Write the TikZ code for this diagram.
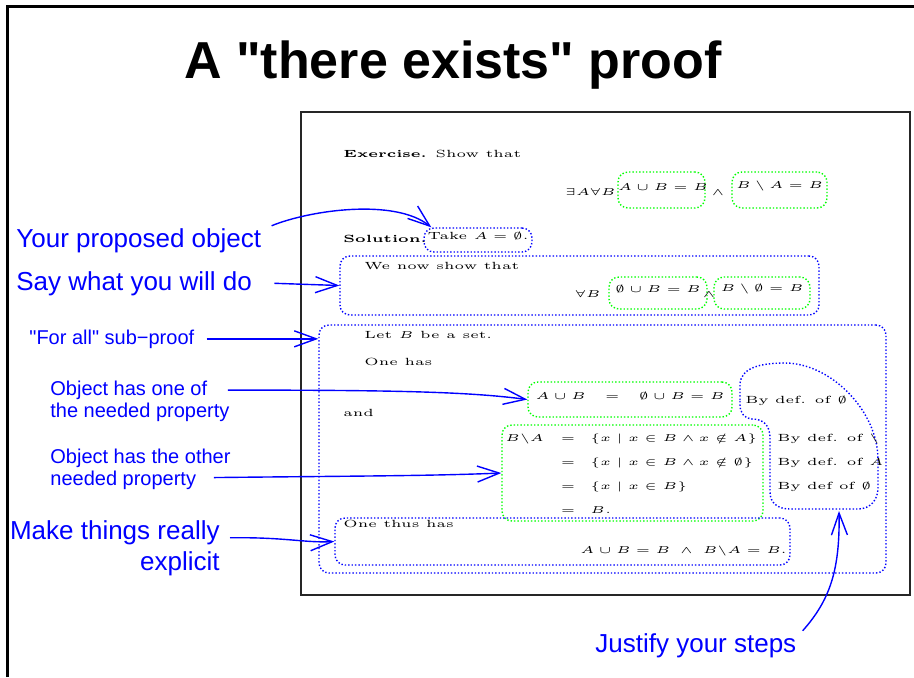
\documentclass[tikz,border=0pt]{standalone}
\usepackage{fontspec}
\usepackage{amsmath}
\usepackage{amssymb}
\usetikzlibrary{arrows.meta,positioning,fit}
\newfontfamily\helv{Liberation Sans}
\newcommand\wid[1]{\scalebox{1.35}[1]{#1}}

\begin{document}
\begin{tikzpicture}[x=0.5pt,y=-0.5pt,
    >={Straight Barb[length=11pt,width=8pt]},
    note/.style={text=blue,font=\helv\fontsize{13}{15.5}\selectfont,inner sep=1pt},
    smallnote/.style={text=blue,font=\helv\fontsize{10}{11}\selectfont,inner sep=1pt,align=left},
    tx/.style={font=\fontsize{5.2}{6}\selectfont,inner sep=0pt,anchor=base west},
    bluedot/.style={draw=blue,line width=0.7pt,dash pattern=on 0.7pt off 1pt},
    bluebox/.style={bluedot,rounded corners=5pt,inner sep=0pt,font=\fontsize{5.2}{6}\selectfont},
    greenbox/.style={bluebox,draw=green},
    arr/.style={->,blue,line width=0.7pt}]
\useasboundingbox (0,0) rectangle (914,677);

% slide frame and title
\draw[line width=1.5pt] (7,677) -- (7,6) -- (914,6);
\node[font=\helv\bfseries\fontsize{26}{30}\selectfont,anchor=base] (title) at (453,78) {A "there exists" proof};
\node[draw=black!85,line width=1pt,inner sep=0pt,fit={(301,112) (910,595)}] (slide) {};

% the exercise
\node[tx] (exo) at (343,157) {\wid{\textbf{Exercise.} Show that}};
\node[tx,anchor=base east] (exq) at (616,195) {\wid{$\exists A\forall B$}};
\node[greenbox,fit={(618,172) (705,208)}] (ex1) {\wid{$A\cup B=B$}};
\node[tx,anchor=base] (exand) at (718,195) {\wid{$\wedge$}};
\node[greenbox,fit={(732,172) (827,208)}] (ex2) {\wid{$B\setminus A=B$}};

% the solution
\node[tx] (sol) at (343,242) {\wid{\textbf{Solution.}}};
\node[bluebox,fit={(424,228) (532,252)}] (take) {\wid{Take $A=\emptyset$.}};

\node[bluebox,fit={(340,256) (819,315)}] (now) {};
\node[tx] (nowt) at (364,269) {\wid{We now show that}};
\node[tx,anchor=base east] (nowq) at (601,297) {\wid{$\forall B$}};
\node[greenbox,fit={(609,277) (707,309)}] (now1) {\wid{$\emptyset\cup B=B$}};
\node[tx,anchor=base] (nowand) at (709,297) {\wid{$\wedge$}};
\node[greenbox,fit={(714,277) (810,309)}] (now2) {\wid{$B\setminus\emptyset=B$}};

% for all sub-proof
\node[bluebox,fit={(319,325) (886,573)}] (forall) {};
\node[tx] (let) at (364,338) {\wid{Let $B$ be a set.}};
\node[tx] (has) at (364,365) {\wid{One has}};
\node[greenbox,fit={(528,382) (732,417)}] (union) {\wid{$A\cup B\quad=\quad\emptyset\cup B=B$}};
\node[tx] (and) at (343,416) {\wid{and}};
\node[greenbox,fit={(502,425) (763,521)}] (diff) {};
\node[tx] (lhs) at (505,441) {\wid{$B\backslash A$}};
\foreach \i/\yy in {1/441,2/465,3/489,4/513}
  \node[tx,anchor=base] (eq\i) at (568,\yy) {\wid{$=$}};
\node[tx] (rhs1) at (590,441) {\wid{$\{x\mid x\in B\wedge x\notin A\}$}};
\node[tx] (rhs2) at (590,465) {\wid{$\{x\mid x\in B\wedge x\notin\emptyset\}$}};
\node[tx] (rhs3) at (590,489) {\wid{$\{x\mid x\in B\}$}};
\node[tx] (rhs4) at (590,513) {\wid{$B.$}};

% justifications
\draw[bluedot] (740,400) -- (740,385) .. controls (740,368) and (760,363) .. (785,363)
  .. controls (830,363) and (878,410) .. (878,460) -- (878,488)
  .. controls (878,500) and (870,509) .. (858,509) -- (790,509)
  .. controls (778,509) and (770,503) .. (770,492) -- (770,438)
  .. controls (770,425) and (763,419) .. (752,419)
  .. controls (745,419) and (740,413) .. (740,405) -- cycle;
\coordinate (blobbot) at (839,511);
\node[tx] (why1) at (745,403) {\wid{By def. of $\emptyset$}};
\node[tx] (why2) at (777,441) {\wid{By def. of $\backslash$}};
\node[tx] (why3) at (777,465) {\wid{By def. of $A$}};
\node[tx] (why4) at (777,489) {\wid{By def of $\emptyset$}};

\node[bluebox,fit={(335,518) (790,565)}] (thus) {};
\node[tx] (thust) at (343,527) {\wid{One thus has}};
\node[tx,anchor=base east] (concl) at (787,553) {\wid{$A\cup B=B\;\wedge\;B\backslash A=B$.}};

% comments on the side
\node[note,anchor=base west] (prop) at (14,247) {Your proposed object};
\node[note,anchor=base west] (say) at (14,290) {Say what you will do};
\node[smallnote,anchor=base west] (fa) at (27,344) {"For all" sub−proof};
\node[smallnote,anchor=base west] (one) at (48,417) {Object has one of\\the needed property};
\node[smallnote,anchor=base west] (other) at (48,485) {Object has the other\\needed property};
\node[note,align=right,anchor=base east] (make) at (222,570) {Make things really\\explicit};
\node[note,anchor=base west] (just) at (593,652) {Justify your steps};

\draw[arr] ([xshift=4pt]prop.north east) .. controls (310,210) and (395,198) .. ([xshift=4pt]take.north west);
\draw[arr] ([xshift=10pt]say.east) -- (now.west);
\draw[arr] ([xshift=5pt]fa.east) -- (fa.east -| forall.west);
\draw[arr] ([xshift=-2pt,yshift=-6pt]one.north east) .. controls (400,390) and (470,392) .. (union.west);
\draw[arr] ([xshift=-9.5pt,yshift=7pt]other.south east) .. controls (350,476) and (430,476) .. (diff.west);
\draw[arr] ([xshift=4pt,yshift=-10pt]make.north east) .. controls (285,537) and (305,543) .. (thus.west);
\draw[arr] ([xshift=2pt]just.north east) .. controls (830,600) and (840,570) .. (blobbot);
\end{tikzpicture}
\end{document}
